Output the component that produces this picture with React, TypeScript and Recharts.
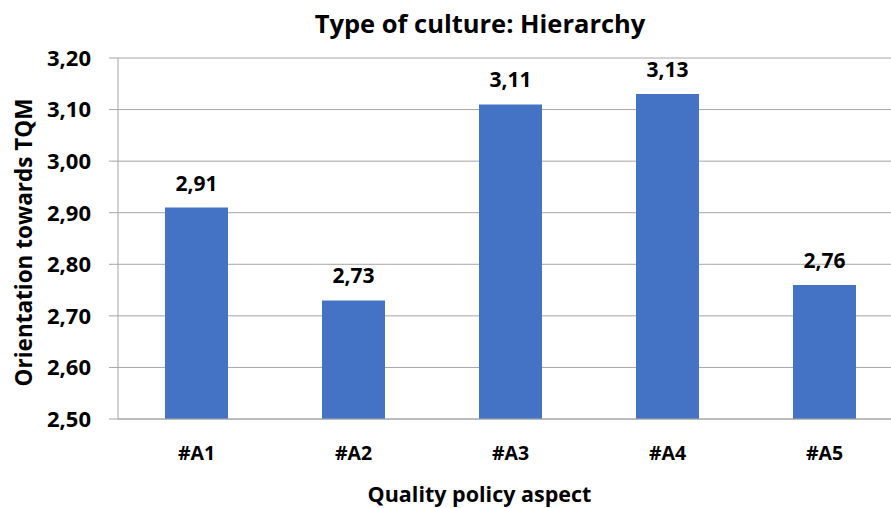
import { BarChart, Bar, XAxis, YAxis, CartesianGrid, LabelList } from 'recharts';

const aspects = ['#A1', '#A2', '#A3', '#A4', '#A5'];
const scores = [2.91, 2.73, 3.11, 3.13, 2.76];
const yTicks = [2.5, 2.6, 2.7, 2.8, 2.9, 3.0, 3.1, 3.2];

const data = aspects.map((a, i) => ({ aspect: a, score: scores[i] }));

const font = '"Open Sans", Lato, sans-serif';
const fmt = (v: number) => v.toFixed(2).replace('.', ',');

export default function App() {
  return (
    <div style={{ position: 'fixed', left: 0, top: 0, width: 891, height: 508, overflow: 'hidden', background: '#fff', fontFamily: font }}>
      <div style={{ position: 'absolute', left: 80, top: 6, width: 800, textAlign: 'center', fontSize: 25.5, lineHeight: '34px', fontWeight: 700, color: '#000' }}>
        Type of culture: Hierarchy
      </div>
      <BarChart
        width={910}
        height={508}
        data={data}
        margin={{ top: 58, right: 7, bottom: 0, left: 0 }}
        barSize={63}
      >
        <CartesianGrid vertical={false} stroke="#a6a6a6" strokeWidth={1} />
        <XAxis
          dataKey="aspect"
          height={89}
          axisLine={{ stroke: '#a6a6a6' }}
          tickLine={false}
          tick={{ fontSize: 19.5, fontWeight: 700, fill: '#000', fontFamily: font }}
          dy={19}
          label={{ value: 'Quality policy aspect', position: 'insideBottom', offset: 6, fontSize: 21.5, fontWeight: 700, fill: '#000', fontFamily: font, dx: -31 }}
        />
        <YAxis
          domain={[2.5, 3.2]}
          ticks={yTicks}
          width={118}
          axisLine={{ stroke: '#a6a6a6' }}
          tickLine={{ stroke: '#a6a6a6' }}
          tickSize={9}
          tickFormatter={fmt}
          dx={-16}
          tick={{ fontSize: 22, fontWeight: 700, fill: '#000', fontFamily: font }}
          label={{ value: 'Orientation towards TQM', angle: -90, position: 'insideLeft', offset: 24, fontSize: 22.5, fontWeight: 700, fill: '#000', fontFamily: font, textAnchor: 'middle', dy: 4 }}
        />
        <Bar dataKey="score" fill="#4472c4" isAnimationActive={false}>
          <LabelList dataKey="score" position="top" offset={17} formatter={(v: any) => fmt(Number(v))} style={{ fontSize: 21, fontWeight: 700, fill: '#000', fontFamily: font }} />
        </Bar>
      </BarChart>
    </div>
  );
}
